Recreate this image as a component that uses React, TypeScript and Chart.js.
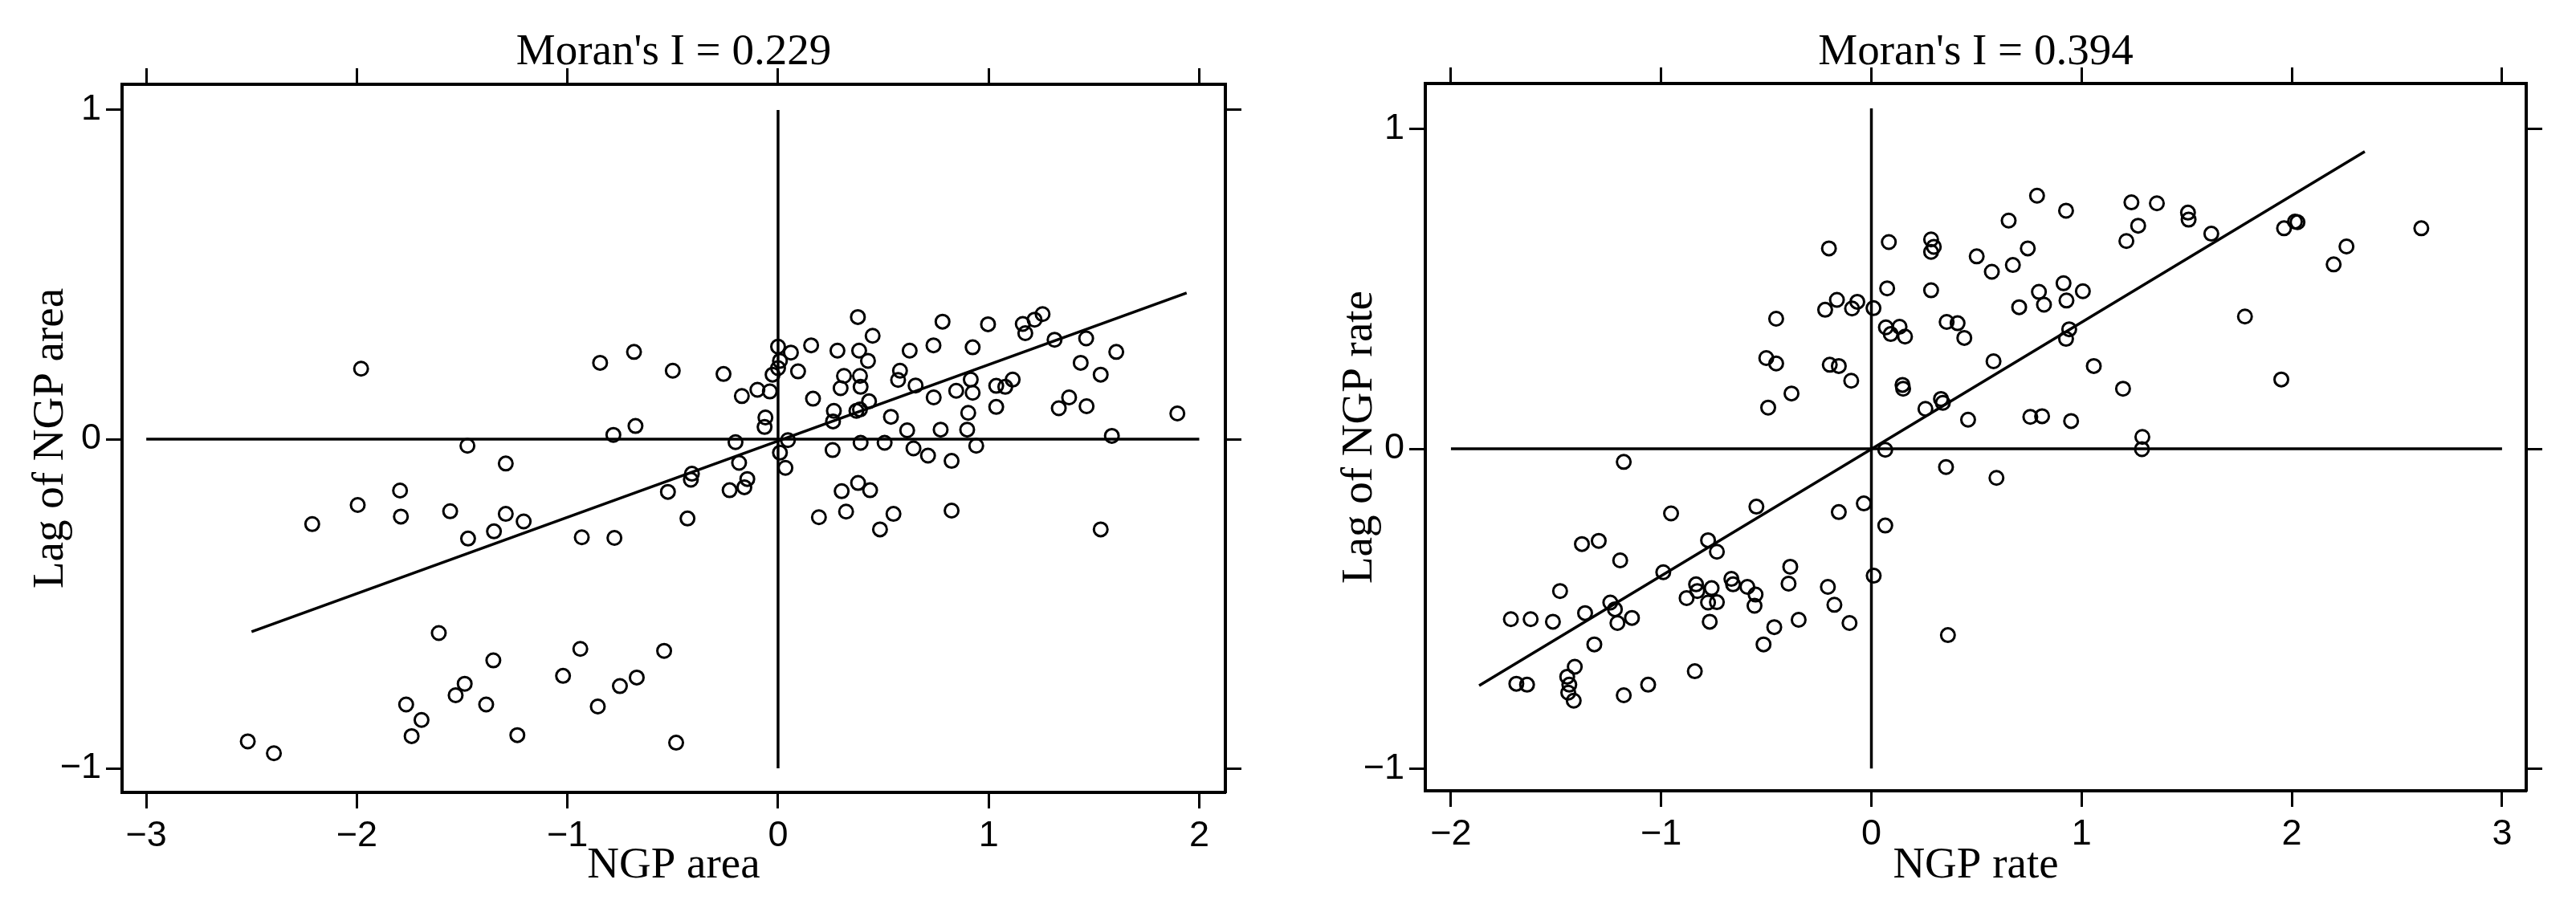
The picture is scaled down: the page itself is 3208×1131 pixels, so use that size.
import React, { useEffect, useRef } from 'react';
import { Chart, registerables } from 'chart.js';

Chart.register(...registerables);

// ---------- Data: left panel (NGP area) ----------
const areaX = [
  -1.98, -0.845, -0.684, -0.5, -0.677, -0.782, -0.259, -0.172, -0.098, -0.039,
  -0.06, -0.064, 0.0, 0.061, 0.009, 0.0, -0.026, 0.095, 0.157, 0.282,
  0.313, 0.297, 0.166, 0.265, 0.261, 0.379, 0.449, 0.385, 0.427, 0.389,
  0.392, 0.432, 0.389, 0.372, 0.536, 0.613, 0.625, 0.579, 0.57, 0.653,
  0.738, 0.781, 0.739, 0.772, 0.846, 0.915, 0.924, 0.903, 0.898, 0.924,
  0.997, 1.036, 1.079, 1.114, 1.036, 1.162, 1.174, 1.218, 1.256, 1.313,
  1.463, 1.437, 1.532, 1.606, 1.382, 1.333, 1.465, 1.896, 1.585, -0.202,
  0.047, 0.009, 0.035, -0.185, -0.409, -0.414, -0.23, -0.16, -0.146, -0.43,
  0.259, 0.392, 0.506, 0.643, 0.712, 0.824, 0.941, 0.302, 0.38, 0.437,
  0.323, 0.194, 0.548, 0.484, 0.824, 1.532, -0.484, -1.475, -1.293, -1.795,
  -1.996, -2.212, -1.791, -1.557, -1.472, -1.349, -1.293, -1.208, -0.932, -0.777,
  -0.523, -1.611, -1.352, -0.939, -0.541, -1.021, -0.671, -0.751, -1.488, -1.531,
  -1.386, -0.856, -1.766, -1.693, -1.74, -1.238, -2.518, -2.394,
];
const areaLag = [
  0.214, 0.232, 0.265, 0.208, 0.04, 0.013, 0.198, 0.131, 0.15, 0.145,
  0.066, 0.037, 0.281, 0.263, 0.238, 0.216, 0.196, 0.206, 0.285, 0.269,
  0.192, 0.155, 0.123, 0.086, 0.054, 0.371, 0.314, 0.269, 0.238, 0.192,
  0.159, 0.115, 0.09, 0.086, 0.068, 0.027, 0.269, 0.208, 0.18, 0.163,
  0.285, 0.357, 0.127, 0.029, 0.147, 0.181, 0.141, 0.08, 0.029, 0.279,
  0.349, 0.162, 0.159, 0.181, 0.098, 0.35, 0.322, 0.363, 0.38, 0.302,
  0.306, 0.232, 0.196, 0.265, 0.127, 0.094, 0.1, 0.078, 0.01, -0.009,
  -0.003, -0.041, -0.087, -0.072, -0.105, -0.123, -0.155, -0.146, -0.121, -0.241,
  -0.033, -0.011, -0.011, -0.028, -0.05, -0.066, -0.02, -0.158, -0.133, -0.155,
  -0.22, -0.237, -0.227, -0.274, -0.217, -0.274, -0.922, -0.02, -0.074, -0.156,
  -0.2, -0.258, -0.235, -0.219, -0.302, -0.28, -0.227, -0.25, -0.298, -0.3,
  -0.16, -0.589, -0.672, -0.637, -0.643, -0.719, -0.724, -0.75, -0.743, -0.778,
  -0.806, -0.812, -0.806, -0.853, -0.902, -0.899, -0.918, -0.954,
];
const areaFitX = [-2.5, 1.94];
const areaFitY = [-0.585, 0.444];
const areaTicksX = [-3, -2, -1, 0, 1, 2];
const areaTicksY = [-1, 0, 1];

// ---------- Data: right panel (NGP rate) ----------
const rateX = [
  -0.202, 0.083, 0.075, -0.453, -0.164, -0.22, -0.067, -0.092, 0.01, 0.069,
  0.092, 0.134, 0.16, -0.5, -0.453, -0.198, -0.155, -0.096, 0.148, 0.151,
  -0.38, -0.491, 0.788, 0.926, 0.653, 1.237, 1.358, 1.269, 1.213, 1.506,
  1.509, 1.617, 0.284, 0.297, 0.284, 0.501, 0.744, 0.673, 0.573, 0.284,
  0.914, 0.797, 1.006, 0.928, 0.821, 0.703, 0.358, 0.41, 0.442, 0.941,
  0.926, 0.581, 1.058, 1.197, 1.777, 1.963, 2.015, 2.027, 2.26, 2.199,
  2.616, 1.95, 0.257, 0.331, 0.34, 0.46, 0.756, 0.812, 0.95, 1.289,
  1.287, 0.355, 0.595, 0.364, -1.178, 0.066, -0.547, -0.953, -0.155, -0.036,
  0.066, -1.377, -1.297, -1.195, -0.777, -0.735, -0.99, 0.011, -0.386, -0.394,
  -0.666, -0.658, -0.834, -0.828, -0.76, -0.879, -0.777, -0.735, -0.769, -0.59,
  -0.551, -0.556, -0.462, -0.513, -0.346, -0.207, -0.176, -0.104, -1.481, -1.242,
  -1.22, -1.362, -1.715, -1.621, -1.515, -1.208, -1.139, -1.318, -0.84, -1.689,
  -1.638, -1.411, -1.447, -1.437, -1.442, -1.416, -1.178, -1.062,
];
const rateLag = [
  0.627, 0.647, 0.502, 0.407, 0.466, 0.435, 0.46, 0.439, 0.44, 0.38,
  0.359, 0.382, 0.351, 0.284, 0.267, 0.263, 0.259, 0.213, 0.2, 0.188,
  0.173, 0.129, 0.792, 0.745, 0.714, 0.771, 0.768, 0.698, 0.65, 0.739,
  0.717, 0.673, 0.655, 0.632, 0.616, 0.602, 0.627, 0.575, 0.554, 0.496,
  0.518, 0.491, 0.493, 0.464, 0.451, 0.443, 0.397, 0.393, 0.347, 0.374,
  0.344, 0.274, 0.259, 0.188, 0.414, 0.69, 0.711, 0.709, 0.633, 0.577,
  0.69, 0.217, 0.125, 0.156, 0.144, 0.091, 0.1, 0.102, 0.087, 0.037,
  -0.001, -0.057, -0.091, -0.583, -0.041, -0.003, -0.181, -0.202, -0.198, -0.171,
  -0.24, -0.298, -0.288, -0.349, -0.286, -0.322, -0.386, -0.397, -0.369, -0.422,
  -0.407, -0.424, -0.424, -0.445, -0.436, -0.467, -0.481, -0.48, -0.541, -0.432,
  -0.456, -0.491, -0.558, -0.612, -0.535, -0.432, -0.488, -0.545, -0.445, -0.481,
  -0.502, -0.514, -0.533, -0.533, -0.541, -0.545, -0.529, -0.612, -0.696, -0.735,
  -0.738, -0.682, -0.713, -0.738, -0.763, -0.788, -0.771, -0.738,
];
const rateFitX = [-1.866, 2.347];
const rateFitY = [-0.741, 0.93];
const rateTicksX = [-2, -1, 0, 1, 2, 3];
const rateTicksY = [-1, 0, 1];

type Panel = {
  left: number;
  width: number;
  xs: number[];
  ys: number[];
  fitX: number[];
  fitY: number[];
  ticksX: number[];
  ticksY: number[];
  vLineTop: number;
  xMin: number;
  xMax: number;
  yMin: number;
  yMax: number;
  frameLeft: number;
  frameRight: number;
  frameTop: number;
  frameBottom: number;
  yTitlePad: number;
  title: string;
  xTitle: string;
  yTitle: string;
};

const PANELS: Panel[] = [
  {
    left: 0, width: 1600,
    xs: areaX, ys: areaLag, fitX: areaFitX, fitY: areaFitY,
    ticksX: areaTicksX, ticksY: areaTicksY, vLineTop: 1,
    xMin: -3.115, xMax: 2.124, yMin: -1.073, yMax: 1.078,
    frameLeft: 152, frameRight: 1526, frameTop: 105, frameBottom: 987,
    yTitlePad: 31,
    title: "Moran's I = 0.229", xTitle: 'NGP area', yTitle: 'Lag of NGP area',
  },
  {
    left: 1600, width: 1608,
    xs: rateX, ys: rateLag, fitX: rateFitX, fitY: rateFitY,
    ticksX: rateTicksX, ticksY: rateTicksY, vLineTop: 1.065,
    xMin: -2.122, xMax: 3.115, yMin: -1.07, yMax: 1.143,
    frameLeft: 175, frameRight: 1546, frameTop: 104, frameBottom: 985,
    yTitlePad: 61,
    title: "Moran's I = 0.394", xTitle: 'NGP rate', yTitle: 'Lag of NGP rate',
  },
];

const H = 1131;
const SERIF = 'Liberation Serif';
const SANS = 'Liberation Sans';

const fmt = (v: number | string) => {
  const n = Number(v);
  return n < 0 ? '\u2212' + Math.abs(n) : String(n);
};

function PanelChart({ p }: { p: Panel }) {
  const ref = useRef<HTMLCanvasElement | null>(null);
  useEffect(() => {
    if (!ref.current) return;
    const points = p.xs.map((x, i) => ({ x, y: p.ys[i] }));
    const fit = p.fitX.map((x, i) => ({ x, y: p.fitY[i] }));
    const hLine = [
      { x: p.ticksX[0], y: 0 },
      { x: p.ticksX[p.ticksX.length - 1], y: 0 },
    ];
    const vLine = [
      { x: 0, y: p.ticksY[0] },
      { x: 0, y: p.vLineTop },
    ];
    const grid = {
      drawOnChartArea: false,
      drawTicks: true,
      tickLength: 20,
      tickWidth: 3,
      color: '#000',
    };
    const border = { display: true, color: '#000', width: 4 };
    const tickFont = { family: SANS, size: 45 };
    const titleFont = { family: SERIF, size: 55 };
    const setX = (vals: number[]) => (s: any) => {
      s.ticks = vals.map((v) => ({ value: v }));
    };
    const lineDs = (data: any[], w: number) => ({
      type: 'line' as const,
      data,
      borderColor: '#000',
      borderWidth: w,
      pointRadius: 0,
      showLine: true,
      fill: false,
      tension: 0,
    });
    const chart = new Chart(ref.current, {
      type: 'scatter',
      data: {
        datasets: [
          {
            data: points,
            pointStyle: 'circle',
            pointRadius: 8.5,
            pointHoverRadius: 8.5,
            borderWidth: 3,
            borderColor: '#000',
            backgroundColor: 'rgba(0,0,0,0)',
          } as any,
          lineDs(fit, 3.5) as any,
          lineDs(hLine, 3.5) as any,
          lineDs(vLine, 3.5) as any,
        ],
      },
      options: {
        animation: false,
        responsive: false,
        devicePixelRatio: 1,
        events: [],
        layout: { padding: 0 },
        plugins: { legend: { display: false }, tooltip: { enabled: false } },
        scales: {
          x: {
            type: 'linear',
            axis: 'x',
            position: 'bottom',
            min: p.xMin,
            max: p.xMax,
            afterBuildTicks: setX(p.ticksX),
            afterFit: (s: any) => { s.height = H - p.frameBottom; },
            ticks: {
              autoSkip: false, maxRotation: 0, minRotation: 0, padding: 8,
              color: '#000', font: tickFont, callback: fmt,
            },
            grid, border,
            title: {
              display: true, text: p.xTitle, color: '#000', font: titleFont,
              padding: { top: 0, bottom: 19 },
            },
          },
          x2: {
            type: 'linear',
            axis: 'x',
            position: 'top',
            min: p.xMin,
            max: p.xMax,
            afterBuildTicks: setX(p.ticksX),
            afterFit: (s: any) => { s.height = p.frameTop; },
            ticks: { display: false },
            grid, border,
            title: {
              display: true, text: p.title, color: '#000', font: titleFont,
              padding: { top: 33, bottom: 0 },
            },
          },
          y: {
            type: 'linear',
            axis: 'y',
            position: 'left',
            min: p.yMin,
            max: p.yMax,
            afterBuildTicks: setX(p.ticksY),
            afterFit: (s: any) => { s.width = p.frameLeft; },
            ticks: {
              autoSkip: false, padding: 6, color: '#000', font: tickFont, callback: fmt,
            },
            grid, border,
            title: {
              display: true, text: p.yTitle, color: '#000', font: titleFont,
              padding: { top: p.yTitlePad, bottom: 0 },
            },
          },
          y2: {
            type: 'linear',
            axis: 'y',
            position: 'right',
            min: p.yMin,
            max: p.yMax,
            afterBuildTicks: setX(p.ticksY),
            afterFit: (s: any) => { s.width = p.width - p.frameRight; },
            ticks: { display: false },
            grid, border,
          },
        },
      } as any,
    });
    return () => chart.destroy();
  }, [p]);
  return (
    <canvas
      ref={ref}
      width={p.width}
      height={H}
      style={{ position: 'absolute', left: p.left, top: 0, width: p.width, height: H, display: 'block' }}
    />
  );
}

export default function App() {
  return (
    <div
      style={{
        position: 'absolute', left: 0, top: 0, width: 3208, height: H,
        background: '#fff', overflow: 'hidden',
      }}
    >
      {PANELS.map((p, i) => (
        <PanelChart key={i} p={p} />
      ))}
    </div>
  );
}
